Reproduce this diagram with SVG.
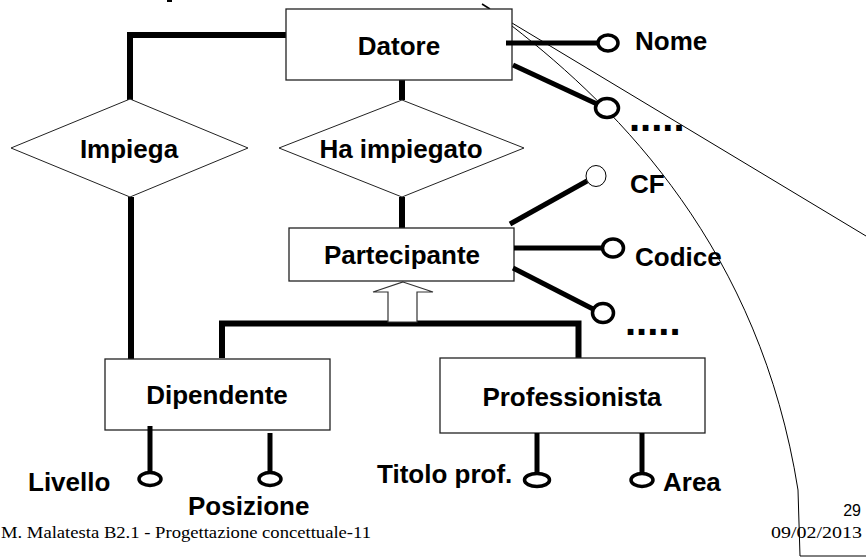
<svg xmlns="http://www.w3.org/2000/svg" width="866" height="558" viewBox="0 0 866 558">
<defs>
<style>
.box{fill:#fff;stroke:#222;stroke-width:1.3}
.rel{fill:#fff;stroke:#222;stroke-width:1}
.lbl{font-family:"Liberation Sans",Arial,sans-serif;font-weight:bold;font-size:26px;fill:#000}
.c{text-anchor:middle}
.conn{fill:none;stroke:#000;stroke-width:6;stroke-linejoin:miter;stroke-linecap:butt}
.att{fill:none;stroke:#000;stroke-width:5}
.atc{fill:#fff;stroke:#000;stroke-width:3.5}
.thin{fill:none;stroke:#000;stroke-width:1}
.dots{font-family:"Liberation Sans",Arial,sans-serif;font-weight:bold;font-size:40px;fill:#000}
.foot{font-family:"Liberation Serif","Times New Roman",serif;font-size:16px;fill:#000}
</style>
</defs>
<rect width="866" height="558" fill="#fff"/>

<g id="page-curl">
<path class="thin" d="M512,23 L866,236"/>
<path class="thin" d="M512,26 C620,110 760,250 798,490 L800,556 L866,556"/>
<path d="M482,4 L490,9" stroke="#000" stroke-width="1.5"/>
<rect x="167" y="0" width="5" height="2" fill="#000"/>
</g>

<g id="connectors">
<polyline class="conn" points="286,35 130,35 130,100"/>
<line class="conn" x1="131" y1="197" x2="131" y2="359"/>
<line class="conn" x1="402" y1="80" x2="402" y2="100"/>
<line class="conn" x1="402" y1="197" x2="402" y2="228"/>
<polyline class="conn" points="222,358 222,323.5 578.5,323.5 578.5,358"/>
<polygon points="403,282 433,292 417,292 417,322 388,322 388,292 373,292" fill="#fff" stroke="#333" stroke-width="1.2"/>
</g>

<g id="Datore">
<rect class="box" x="286" y="9" width="226" height="71"/>
<text class="lbl c" x="399" y="55">Datore</text>
</g>

<g id="Impiega">
<polygon class="rel" points="11,148 130,99 248,148 130,197"/>
<text class="lbl c" x="129" y="158">Impiega</text>
</g>

<g id="HaImpiegato">
<polygon class="rel" points="279,148 402,100 524,148 402,197"/>
<text class="lbl c" x="401" y="158">Ha impiegato</text>
</g>

<g id="Partecipante">
<rect class="box" x="289" y="228" width="225" height="53"/>
<text class="lbl c" x="402" y="264">Partecipante</text>
</g>

<g id="Dipendente">
<rect class="box" x="105" y="359" width="225" height="71"/>
<text class="lbl c" x="217" y="404">Dipendente</text>
</g>

<g id="Professionista">
<rect class="box" x="440" y="358" width="265" height="75"/>
<text class="lbl c" x="572" y="406">Professionista</text>
</g>

<g id="attr-Nome">
<line class="att" x1="506" y1="43" x2="598" y2="43"/>
<ellipse class="atc" cx="608" cy="43" rx="10" ry="8"/>
<text class="lbl" x="635" y="50">Nome</text>
</g>

<g id="attr-Datore-more">
<line class="att" x1="513" y1="65" x2="597" y2="104"/>
<ellipse class="atc" cx="607" cy="108" rx="11.5" ry="9.5"/>
<text class="dots" x="629" y="131">.....</text>
</g>

<g id="attr-CF">
<line class="att" x1="510" y1="224" x2="587" y2="181"/>
<ellipse cx="596" cy="176" rx="10" ry="10.5" fill="#fff" stroke="#000" stroke-width="1"/>
<text class="lbl" x="630" y="193">CF</text>
</g>

<g id="attr-Codice">
<line class="att" x1="514" y1="248" x2="602" y2="248"/>
<ellipse class="atc" cx="613" cy="248" rx="10.5" ry="9"/>
<text class="lbl" x="635" y="266">Codice</text>
</g>

<g id="attr-Partecipante-more">
<line class="att" x1="513" y1="268" x2="593" y2="309"/>
<ellipse class="atc" cx="603" cy="313" rx="10.5" ry="9.5"/>
<text class="dots" x="625" y="335">.....</text>
</g>

<g id="attr-Livello">
<line class="att" x1="150" y1="426" x2="150" y2="473"/>
<ellipse class="atc" cx="150" cy="479" rx="11" ry="6.5"/>
<text class="lbl" x="28" y="491">Livello</text>
</g>

<g id="attr-Posizione">
<line class="att" x1="270" y1="433" x2="270" y2="473"/>
<ellipse class="atc" cx="270" cy="479" rx="11" ry="6.5"/>
<text class="lbl" x="188" y="515">Posizione</text>
</g>

<g id="attr-Titolo">
<line class="att" x1="537" y1="433" x2="537" y2="473"/>
<ellipse class="atc" cx="537" cy="480" rx="12.5" ry="6.5"/>
<text class="lbl" x="377" y="483">Titolo prof.</text>
</g>

<g id="attr-Area">
<line class="att" x1="642" y1="433" x2="642" y2="473"/>
<ellipse class="atc" cx="642" cy="480" rx="11" ry="6.5"/>
<text class="lbl" x="663" y="491">Area</text>
</g>

<g id="footer">
<text class="foot" x="1" y="538" textLength="370" lengthAdjust="spacingAndGlyphs">M. Malatesta  B2.1 - Progettazione concettuale-11</text>
<text x="861" y="516" text-anchor="end" font-family="Liberation Sans,Arial,sans-serif" font-size="16">29</text>
<text class="foot" x="771" y="538" textLength="91" lengthAdjust="spacingAndGlyphs">09/02/2013</text>
</g>
</svg>
